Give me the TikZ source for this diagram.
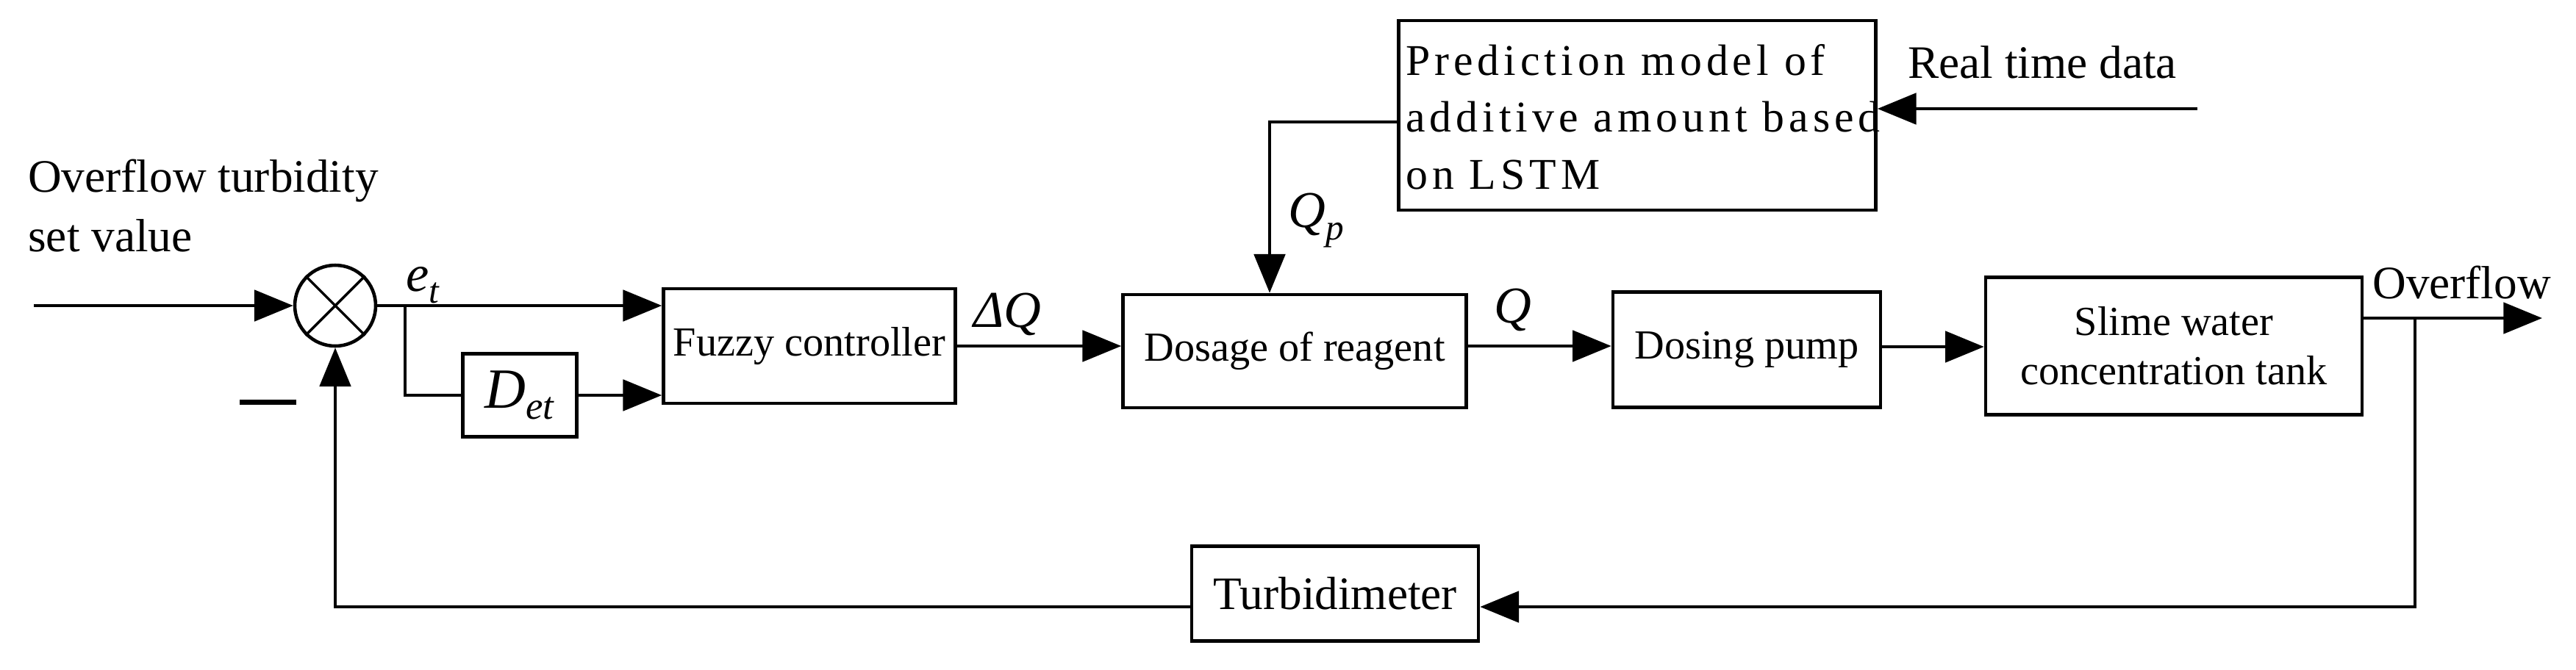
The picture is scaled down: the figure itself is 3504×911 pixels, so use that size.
\documentclass[tikz,border=0pt]{standalone}
\usepackage{fontspec}
\setmainfont{Liberation Serif}
\usetikzlibrary{arrows.meta}
\newcommand{\ital}[1]{\textit{#1}}
\begin{document}
\begin{tikzpicture}[x=0.01cm,y=-0.01cm,
  line width=1.3pt,
  blk/.style={draw,line width=1.3pt,minimum width=0,inner sep=0},
  arr/.style={-{Triangle[length=15pt,width=12pt]}},
  txt/.style={font=\fontsize{16}{19}\selectfont},
  lbl/.style={font=\fontsize{20}{22}\selectfont,inner sep=0}]
\useasboundingbox (0,0) rectangle (3504,911);
% blocks
\node[draw,circle,minimum size=110*0.01cm,inner sep=0] (sum) at (456,416) {};
\draw[line width=1pt] (sum.north west) -- (sum.south east) (sum.north east) -- (sum.south west);
\node[blk,minimum width=397*0.01cm,minimum height=156*0.01cm,txt] (fuzzy) at (1101,471) {Fuzzy controller};
\node[blk,minimum width=155*0.01cm,minimum height=113*0.01cm] (det) at (707,538) {\fontsize{22}{24}\selectfont\ital{D}\raisebox{-0.4ex}{\fontsize{15}{16}\selectfont\ital{et}}};
\node[blk,minimum width=467*0.01cm,minimum height=154*0.01cm,txt] (dose) at (1761,478) {Dosage of reagent};
\node[blk,minimum width=364*0.01cm,minimum height=157*0.01cm,txt] (pump) at (2376,476) {Dosing pump};
\node[blk,minimum width=512*0.01cm,minimum height=187*0.01cm,txt,align=center] (tank) at (2957,471) {Slime water\\concentration tank};
\node[blk,minimum width=649*0.01cm,minimum height=258*0.01cm] (pred) at (2227,157) {};
\node[txt,anchor=north west,align=left,inner sep=0,font=\fontsize{17}{22}\selectfont\addfontfeature{LetterSpace=10}] (predtext) at (1910,58) {Prediction model of\\additive amount based\\on LSTM};
\node[blk,minimum width=390*0.01cm,minimum height=129*0.01cm,txt,font=\fontsize{18}{20}\selectfont] (turb) at (1816,808) {Turbidimeter};
% texts
\node[txt,anchor=north west,align=left,inner sep=0,font=\fontsize{18}{23}\selectfont] (setv) at (36,215) {Overflow turbidity\\set value};
\node[txt,anchor=west,inner sep=0,font=\fontsize{18}{20}\selectfont] (rtd) at (2593,85) {Real time data};
\node[txt,anchor=west,inner sep=0,font=\fontsize{18}{20}\selectfont] (ovf) at (3225,385) {Overflow};
\node[lbl,anchor=west] (et) at (550,388) {\ital{e}\raisebox{-0.5ex}{\fontsize{14}{16}\selectfont\ital{t}}};
\node[lbl,anchor=west] (dq) at (1322,428) {\ital{ΔQ}};
\node[lbl,anchor=west] (qp) at (1750,300) {\ital{Q}\raisebox{-0.5ex}{\fontsize{14}{16}\selectfont\ital{p}}};
\node[lbl,anchor=west] (q) at (2030,422) {\ital{Q}};
\draw[line width=2pt] (326,547) -- (403,547);
% coordinates
\coordinate (in) at (46,416);
\coordinate (br) at (551,416);
\coordinate (rt) at (2989,148);
\coordinate (out) at (3458,433);
\coordinate (ob) at (3285,433);
% connectors
\draw[arr] (in) -- (sum.west);
\draw[arr] (sum.east) -- (sum.east -| fuzzy.west);
\draw (br) |- (det.west);
\draw[arr] (det.east) -- (det.east -| fuzzy.west);
\draw[arr] (fuzzy.east) -- (fuzzy.east -| dose.west);
\draw[arr] (pred.west |- 0,166) -| (1727,0 |- dose.north);
\draw[arr] (rt) -- (rt -| pred.east);
\draw[arr] (dose.east |- 0,471) -- (pump.west |- 0,471);
\draw[arr] (pump.east |- 0,472) -- (tank.west |- 0,472);
\draw[arr] (tank.east |- out) -- (out);
\draw[arr] (ob) |- (turb.east |- 0,826);
\draw[arr] (turb.west |- 0,826) -| (sum.south);
\end{tikzpicture}
\end{document}
